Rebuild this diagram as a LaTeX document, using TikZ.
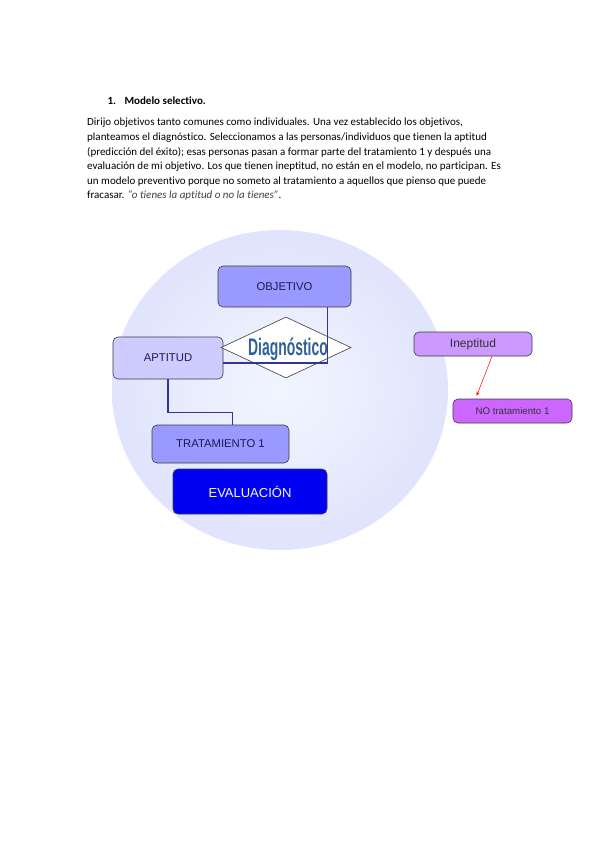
\documentclass[tikz,border=0pt]{standalone}
\usepackage{fontspec}
\setmainfont{Carlito}[Ligatures=NoCommon]
\newfontfamily\arialfont{Liberation Sans}
\usepackage{tikz}
\usetikzlibrary{arrows.meta, positioning, shapes.geometric, calc}
\definecolor{msBall}{HTML}{CDD0F8}
\definecolor{msCore}{HTML}{F0F5FF}
\definecolor{msEdge}{HTML}{3C3C3C}
\definecolor{msLink}{HTML}{333399}
\definecolor{msMid}{HTML}{9999FF}
\definecolor{msLight}{HTML}{CCCCFF}
\definecolor{msDeep}{HTML}{0000F2}
\definecolor{msLila}{HTML}{CC99FF}
\definecolor{msPurp}{HTML}{CC66FF}
\definecolor{msSteel}{HTML}{2F6198}
\definecolor{msNavy}{HTML}{1A1A55}
\definecolor{msQuote}{HTML}{404040}
\pgfdeclareradialshading{msGlow}{\pgfpointorigin}{color(0bp)=(msCore); color(10bp)=(msCore!85!msBall); color(50bp)=(msBall)}

\begin{document}
\begin{tikzpicture}[x=1pt, y=-1pt,
  box/.style={draw=msEdge, rounded corners=5pt, fill=#1, font=\arialfont\fontsize{11.3}{13}\selectfont,
              text=msNavy, inner sep=0pt, line width=0.6pt},
  link/.style={draw=msLink, line width=1.6pt},
]
  \fill[white] (0,0) rectangle (600,848);
  \useasboundingbox (0,0) rectangle (600,848);

  % texto
  \node[anchor=base west, font=\bfseries\fontsize{11}{13}\selectfont] (num) at (104,105) {1.};
  \node[anchor=base west, font=\bfseries\fontsize{11}{13}\selectfont] (tit) at (121,105) {Modelo selectivo.};
  \node[anchor=north west, align=left, inner sep=0pt, font=\fontsize{11}{14.6}\selectfont] (par) at (87,118)
    {Dirijo objetivos tanto comunes como individuales. Una vez establecido los objetivos,\\
     planteamos el diagnóstico. Seleccionamos a las personas/individuos que tienen la aptitud\\
     (predicción del éxito); esas personas pasan a formar parte del tratamiento 1 y después una\\
     evaluación de mi objetivo. Los que tienen ineptitud, no están en el modelo, no participan. Es\\
     un modelo preventivo porque no someto al tratamiento a aquellos que pienso que puede\\
     fracasar. {\color{msQuote}\itshape “o tienes la aptitud o no la tienes”}.};

  % esfera
  \shade[shading=msGlow] (280,390) ellipse [x radius=168pt, y radius=160pt];

  % cajas
  \node[box=msMid, minimum width=133pt, minimum height=41pt] (obj) at (284.5,286.5) {OBJETIVO};
  \node[box=msLight, minimum width=110pt, minimum height=42pt] (apt) at (168,358) {APTITUD};
  \node[diamond, draw=msEdge, fill=white, line width=0.6pt, minimum width=130pt, minimum height=61pt,
        inner sep=0pt] (diag) at (286,347.5) {};
  \node[font=\arialfont\bfseries\fontsize{24}{24}\selectfont, text=msSteel, xscale=0.58, transform shape,
        inner sep=0pt] (diagt) at (288,349) {Diagnóstico};
  \node[box=msMid, minimum width=137pt, minimum height=38pt] (trat) at (220.5,444) {TRATAMIENTO 1};
  \node[box=msDeep, minimum width=154pt, minimum height=45pt, text=white!88!msLight,
        font=\arialfont\fontsize{13}{15}\selectfont] (eval) at (250,491.5) {EVALUACIÓN};
  \node[box=msLila, minimum width=118pt, minimum height=24pt, font=\arialfont\fontsize{12}{14}\selectfont,
        text=black!80] (inep) at (473,344) {Ineptitud};
  \node[box=msPurp, minimum width=119pt, minimum height=24pt, font=\arialfont\fontsize{9.7}{11}\selectfont,
        text=black!80] (nono) at (512.5,411) {NO tratamiento 1};

  % conectores
  \draw[link] ([xshift=-24pt]obj.south east) |- ([yshift=-5pt]apt.east);
  \draw[link] (apt.south) -- ++(0,33) -| ([xshift=12pt]trat.north);
  \draw[red, line width=0.5pt, -{Stealth[length=4pt,width=3pt]}] ([xshift=19pt]inep.south)
    -- ([xshift=24pt,yshift=3pt]nono.north west);
\end{tikzpicture}
\end{document}
